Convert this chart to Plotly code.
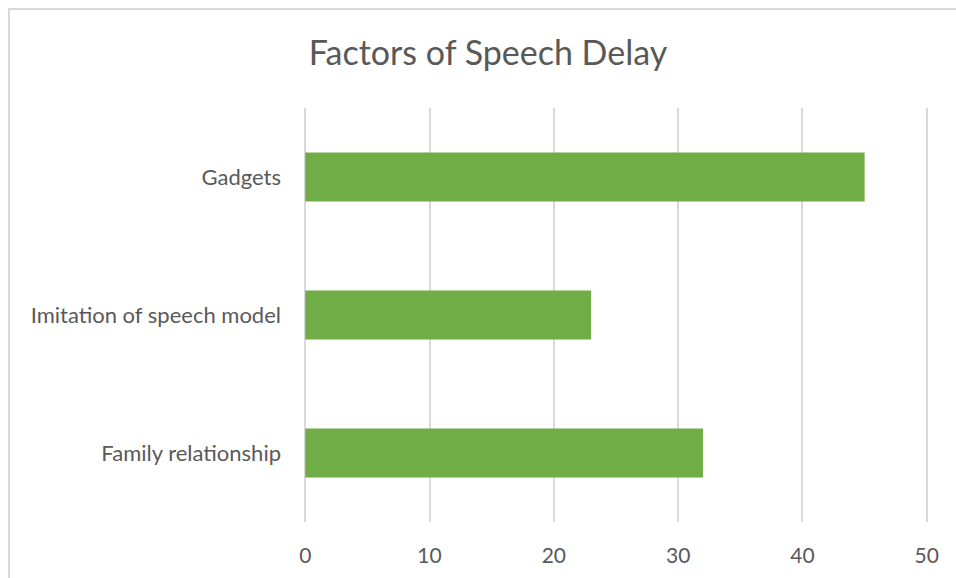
import plotly.graph_objects as go

categories = ["Family relationship", "Imitation of speech model", "Gadgets"]
values = [32, 23, 45]
x_ticks = [0, 10, 20, 30, 40, 50]

FONT = "Lato, 'Open Sans', sans-serif"
GREY = "#595959"

fig = go.Figure(go.Bar(
    x=values, y=categories, orientation="h",
    marker=dict(color="#70AD47", line=dict(width=0)),
    width=0.355,
))

L, R, T, B = 304, 28, 108, 56
W, H = 956, 578
pw, ph = W - L - R, H - T - B

fig.update_layout(
    width=W, height=H,
    margin=dict(l=L, r=R, t=T, b=B),
    paper_bgcolor="white", plot_bgcolor="white",
    showlegend=False,
    title=dict(text="Factors of Speech Delay", x=488 / W, xanchor="center",
               y=1 - 53 / H, yanchor="middle",
               font=dict(family=FONT, size=34, color=GREY)),
    xaxis=dict(range=[-0.1, 50.1], tickvals=x_ticks, showgrid=True, gridcolor="#d9d9d9",
               gridwidth=1.5, zeroline=False, showline=False, ticks="",
               tickfont=dict(family=FONT, size=21, color=GREY), ticklabelstandoff=19),
    yaxis=dict(categoryorder="array", categoryarray=categories, range=[-0.5, 2.5],
               showgrid=False, zeroline=False, showline=False, ticks="",
               tickfont=dict(family=FONT, size=22, color=GREY), ticklabelstandoff=22),
    shapes=[dict(type="rect", xref="paper", yref="paper",
                 x0=(9 - L) / pw, x1=(W + 20 - L) / pw,
                 y0=-(B + 20) / ph, y1=(H - B - 9) / ph,
                 line=dict(color="#d9d9d9", width=2), fillcolor="rgba(0,0,0,0)",
                 layer="below")],
)

fig.write_html("out.html", config={"displayModeBar": False},
               post_script="document.body.style.margin='0';")
